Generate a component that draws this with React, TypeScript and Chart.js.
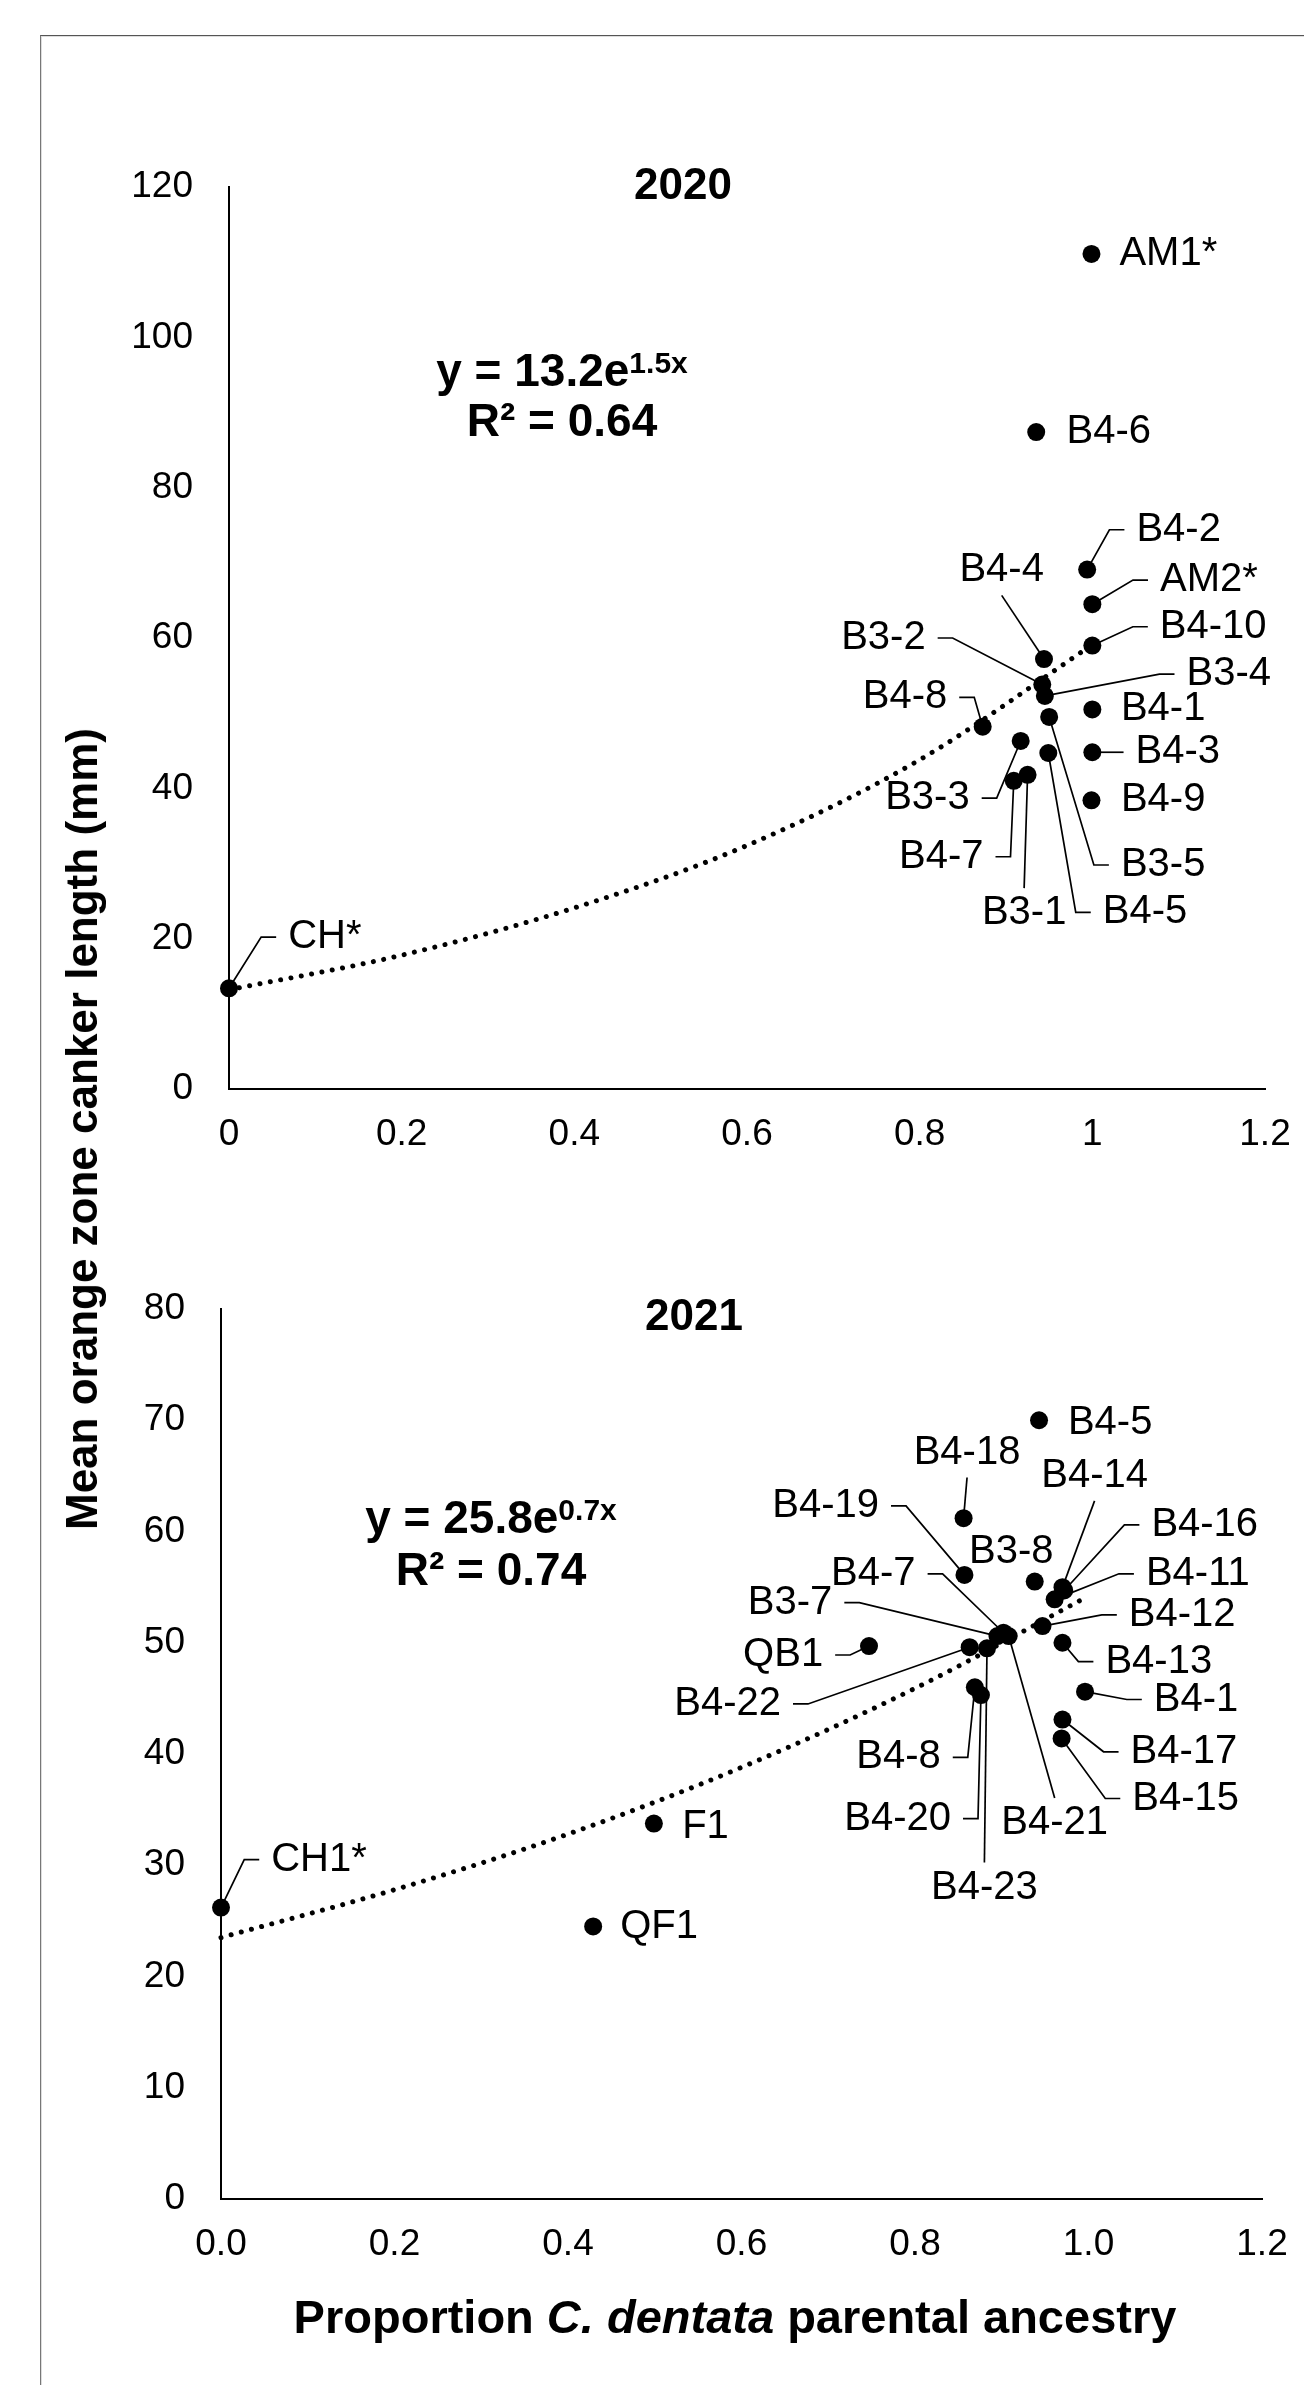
import React, { useEffect, useRef } from 'react';
import { Chart, registerables } from 'chart.js';

Chart.register(...registerables);

const FONT = '"Liberation Sans", Arial, Helvetica, sans-serif';

// ---------------- 2020 data ----------------
const names2020 = ['AM1*', 'B4-6', 'B4-2', 'AM2*', 'B4-10', 'B4-4', 'B3-2', 'B3-4', 'B4-1', 'B3-5', 'B4-8', 'B3-3', 'B4-3', 'B4-5', 'B3-1', 'B4-7', 'B4-9', 'CH*'];
const ancestry2020 = [0.999, 0.935, 0.994, 1.0, 1.0, 0.944, 0.942, 0.945, 1.0, 0.95, 0.873, 0.917, 1.0, 0.949, 0.925, 0.909, 0.999, 0];
const canker2020 = [111.1, 87.4, 69.1, 64.5, 59.0, 57.2, 53.8, 52.3, 50.5, 49.5, 48.2, 46.3, 44.8, 44.7, 41.8, 41.0, 38.4, 13.4];
const trendX2020 = [0, 0.2, 0.4, 0.6, 0.8, 1.0];
const trendY2020 = [13.2, 17.8, 24.1, 32.4, 43.8, 59.1];
const xTickValues2020 = [0, 0.2, 0.4, 0.6, 0.8, 1.0, 1.2];
const xTickLabels2020 = ['0', '0.2', '0.4', '0.6', '0.8', '1', '1.2'];
const yTickValues2020 = [0, 20, 40, 60, 80, 100, 120];
const yTickLabels2020 = ['0', '20', '40', '60', '80', '100', '120'];

// ---------------- 2021 data ----------------
const names2021 = ['B4-5', 'B4-18', 'B4-19', 'B3-8', 'B4-14', 'B4-16', 'B4-11', 'B4-12', 'B4-7', 'B3-7', 'B4-21', 'B4-13', 'QB1', 'B4-22', 'B4-23', 'B4-1', 'B4-8', 'B4-20', 'B4-17', 'B4-15', 'F1', 'QF1', 'CH1*'];
const ancestry2021 = [0.943, 0.856, 0.857, 0.938, 0.97, 0.972, 0.961, 0.947, 0.902, 0.895, 0.908, 0.97, 0.747, 0.863, 0.883, 0.996, 0.869, 0.876, 0.97, 0.969, 0.499, 0.429, 0];
const canker2021 = [70.0, 61.2, 56.1, 55.5, 55.0, 54.7, 53.9, 51.5, 50.9, 50.6, 50.6, 50.0, 49.7, 49.6, 49.5, 45.6, 46.0, 45.3, 43.1, 41.4, 33.75, 24.5, 26.2];
const trendX2021 = [0, 0.2, 0.4, 0.6, 0.8, 1.0];
const trendY2021 = [23.5, 27.8, 32.8, 38.8, 45.9, 54.2];
const xTickValues2021 = [0, 0.2, 0.4, 0.6, 0.8, 1.0, 1.2];
const xTickLabels2021 = ['0.0', '0.2', '0.4', '0.6', '0.8', '1.0', '1.2'];
const yTickValues2021 = [0, 10, 20, 30, 40, 50, 60, 70, 80];
const yTickLabels2021 = ['0', '10', '20', '30', '40', '50', '60', '70', '80'];

// ---------------- text ----------------
const title2020 = '2020';
const title2021 = '2021';
const eq2020 = { main: 'y = 13.2e', sup: '1.5x', r2: 'R² = 0.64' };
const eq2021 = { main: 'y = 25.8e', sup: '0.7x', r2: 'R² = 0.74' };
const yTitle = 'Mean orange zone canker length (mm)';

// ---------------- label layout (label centre in data units, leader type) ----------------
type LabelPos = [number, number, string];
const labelLayout2020: LabelPos[] = [
  [1.088, 111.1, ''], [1.019, 87.4, ''], [1.1, 74.4, 'L'], [1.135, 67.7, 'L'], [1.14, 61.5, 'L'],
  [0.895, 69.0, 'B'], [0.758, 60.0, 'R'], [1.158, 55.2, 'L'], [1.082, 50.55, ''], [1.082, 29.8, 'L'],
  [0.783, 52.1, 'R'], [0.809, 38.7, 'R'], [1.099, 44.8, 'L'], [1.061, 23.5, 'L'], [0.921, 23.4, 'T'],
  [0.825, 30.9, 'R'], [1.082, 38.4, ''], [0.111, 20.2, 'L'],
];
const labelLayout2021: LabelPos[] = [
  [1.025, 69.8, ''], [0.86, 67.1, 'B'], [0.697, 62.3, 'R'], [0.911, 58.2, ''], [1.007, 65.0, 'B'],
  [1.134, 60.6, 'L'], [1.126, 56.2, 'L'], [1.108, 52.5, 'L'], [0.752, 56.2, 'R'], [0.656, 53.6, 'R'],
  [0.961, 33.8, 'T'], [1.081, 48.3, 'L'], [0.648, 48.9, 'R'], [0.584, 44.5, 'R'], [0.88, 28.0, 'T'],
  [1.124, 44.9, 'L'], [0.781, 39.7, 'R'], [0.78, 34.2, 'R'], [1.11, 40.2, 'L'], [1.112, 36.0, 'L'],
  [0.5585, 33.4, ''], [0.505, 24.45, ''], [0.113, 30.5, 'L'],
];

const LABEL_FONT = `40px ${FONT}`;

function labelPlugin(names: string[], xv: number[], yv: number[], layout: LabelPos[]) {
  const geom = (chart: any) => {
    const xs = chart.scales.x;
    const ys = chart.scales.y;
    const ctx = chart.ctx;
    ctx.font = LABEL_FONT;
    return names.map((n, i) => {
      const [lx, ly, type] = layout[i];
      const px = xs.getPixelForValue(xv[i]);
      const py = ys.getPixelForValue(yv[i]);
      const cx = xs.getPixelForValue(lx);
      const cy = ys.getPixelForValue(ly);
      const w = ctx.measureText(n).width;
      return { n, type, px, py, cx, cy, w };
    });
  };
  return {
    id: 'pointLabels',
    beforeDatasetsDraw(chart: any) {
      const ctx = chart.ctx;
      ctx.save();
      const g = geom(chart);
      ctx.strokeStyle = '#000';
      ctx.lineWidth = 1.7;
      ctx.lineJoin = 'miter';
      for (const o of g) {
        const left = o.cx - o.w / 2;
        const right = o.cx + o.w / 2;
        let pts: number[][] | null = null;
        if (o.type === 'L') pts = [[left - 12, o.cy], [left - 27, o.cy], [o.px, o.py]];
        else if (o.type === 'R') pts = [[right + 12, o.cy], [right + 27, o.cy], [o.px, o.py]];
        else if (o.type === 'T') pts = [[o.cx, o.cy - 25], [o.px, o.py]];
        else if (o.type === 'B') pts = [[o.cx, o.cy + 25], [o.px, o.py]];
        if (pts) {
          ctx.beginPath();
          ctx.moveTo(pts[0][0], pts[0][1]);
          for (let k = 1; k < pts.length; k++) ctx.lineTo(pts[k][0], pts[k][1]);
          ctx.stroke();
        }
      }
      ctx.restore();
    },
    afterDatasetsDraw(chart: any) {
      const ctx = chart.ctx;
      ctx.save();
      const g = geom(chart);
      ctx.font = LABEL_FONT;
      ctx.fillStyle = '#000';
      ctx.textAlign = 'center';
      ctx.textBaseline = 'middle';
      for (const o of g) ctx.fillText(o.n, o.cx, o.cy);
      ctx.restore();
    },
  };
}

type Annot = {
  title: string; titleX: number; titleY: number;
  eq: { main: string; sup: string; r2: string }; eqX: number; eqBase1: number; eqBase2: number;
};

const EQ_SIZE = 46;
const SUP_SIZE = 30;

function annotPlugin(a: Annot) {
  return {
    id: 'annot',
    afterDraw(chart: any) {
      const ctx = chart.ctx;
      ctx.save();
      ctx.fillStyle = '#000';
      // title
      ctx.font = `bold 44px ${FONT}`;
      ctx.textAlign = 'center';
      ctx.textBaseline = 'alphabetic';
      ctx.fillText(a.title, a.titleX, a.titleY + 0.358 * 44);
      // equation
      ctx.textAlign = 'left';
      ctx.font = `bold ${EQ_SIZE}px ${FONT}`;
      const w1 = ctx.measureText(a.eq.main).width;
      ctx.font = `bold ${SUP_SIZE}px ${FONT}`;
      const w2 = ctx.measureText(a.eq.sup).width;
      const start = a.eqX - (w1 + w2) / 2;
      ctx.font = `bold ${EQ_SIZE}px ${FONT}`;
      ctx.fillText(a.eq.main, start, a.eqBase1);
      ctx.font = `bold ${SUP_SIZE}px ${FONT}`;
      ctx.fillText(a.eq.sup, start + w1, a.eqBase1 - 13);
      ctx.font = `bold ${EQ_SIZE}px ${FONT}`;
      const w3 = ctx.measureText(a.eq.r2).width;
      ctx.fillText(a.eq.r2, a.eqX - w3 / 2, a.eqBase2);
      ctx.restore();
    },
  };
}

type ChartSpec = {
  names: string[]; xv: number[]; yv: number[]; tx: number[]; ty: number[];
  xTickValues: number[]; xTickLabels: string[]; yTickValues: number[]; yTickLabels: string[];
  yMax: number; layout: LabelPos[];
  padTop: number; padRight: number; yAxisW: number; xAxisH: number; annot: Annot;
};

function makeConfig(s: ChartSpec): any {
  const points = s.xv.map((x, i) => ({ x, y: s.yv[i] }));
  const trend = s.tx.map((x, i) => ({ x, y: s.ty[i] }));
  return {
    type: 'scatter',
    data: {
      datasets: [
        {
          data: points,
          pointRadius: 9,
          pointHoverRadius: 9,
          pointBackgroundColor: '#000',
          pointBorderColor: '#000',
          pointBorderWidth: 0,
          order: 1,
          clip: false,
        },
        {
          data: trend,
          showLine: true,
          pointRadius: 0,
          pointHoverRadius: 0,
          borderColor: '#000',
          borderWidth: 5,
          borderDash: [0.01, 10.5],
          borderCapStyle: 'round',
          cubicInterpolationMode: 'monotone',
          fill: false,
          order: 2,
          clip: false,
        },
      ],
    },
    options: {
      responsive: false,
      maintainAspectRatio: false,
      animation: false,
      events: [],
      devicePixelRatio: 1,
      layout: { padding: { top: s.padTop, right: s.padRight, bottom: 0, left: 0 } },
      plugins: { legend: { display: false }, tooltip: { enabled: false }, title: { display: false } },
      scales: {
        x: {
          type: 'linear',
          min: 0,
          max: 1.2,
          afterBuildTicks: (sc: any) => { sc.ticks = s.xTickValues.map((v) => ({ value: v })); },
          afterFit: (sc: any) => {
            sc.height = s.xAxisH;
            sc.paddingLeft = 0; sc.paddingRight = 0; sc.paddingTop = 0; sc.paddingBottom = 0;
          },
          grid: { display: false, drawTicks: false },
          border: { display: true, color: '#000', width: 2 },
          ticks: {
            callback: (_v: any, i: number) => s.xTickLabels[i],
            font: { family: FONT, size: 37 },
            color: '#000',
            padding: 24,
            maxRotation: 0,
            autoSkip: false,
          },
        },
        y: {
          type: 'linear',
          min: 0,
          max: s.yMax,
          afterBuildTicks: (sc: any) => { sc.ticks = s.yTickValues.map((v) => ({ value: v })); },
          afterFit: (sc: any) => {
            sc.width = s.yAxisW;
            sc.paddingLeft = 0; sc.paddingRight = 0; sc.paddingTop = 0; sc.paddingBottom = 0;
          },
          grid: { display: false, drawTicks: false },
          border: { display: true, color: '#000', width: 2 },
          ticks: {
            callback: (_v: any, i: number) => s.yTickLabels[i],
            font: { family: FONT, size: 37 },
            color: '#000',
            padding: 36,
            autoSkip: false,
          },
        },
      },
    },
    plugins: [labelPlugin(s.names, s.xv, s.yv, s.layout), annotPlugin(s.annot)],
  };
}

const spec2020: ChartSpec = {
  names: names2020, xv: ancestry2020, yv: canker2020, tx: trendX2020, ty: trendY2020,
  xTickValues: xTickValues2020, xTickLabels: xTickLabels2020,
  yTickValues: yTickValues2020, yTickLabels: yTickLabels2020, yMax: 120, layout: labelLayout2020,
  padTop: 187, padRight: 39, yAxisW: 229, xAxisH: 111,
  annot: { title: title2020, titleX: 683, titleY: 183, eq: eq2020, eqX: 562, eqBase1: 386, eqBase2: 436 },
};

const spec2021: ChartSpec = {
  names: names2021, xv: ancestry2021, yv: canker2021, tx: trendX2021, ty: trendY2021,
  xTickValues: xTickValues2021, xTickLabels: xTickLabels2021,
  yTickValues: yTickValues2021, yTickLabels: yTickLabels2021, yMax: 80, layout: labelLayout2021,
  padTop: 109, padRight: 42, yAxisW: 221, xAxisH: 186,
  annot: { title: title2021, titleX: 694, titleY: 114, eq: eq2021, eqX: 491, eqBase1: 333, eqBase2: 385 },
};

function ChartCanvas({ spec, top, height }: { spec: ChartSpec; top: number; height: number }) {
  const ref = useRef<HTMLCanvasElement | null>(null);
  useEffect(() => {
    if (!ref.current) return;
    const chart = new Chart(ref.current, makeConfig(spec));
    return () => chart.destroy();
  }, [spec]);
  return (
    <canvas
      ref={ref}
      width={1304}
      height={height}
      style={{ position: 'absolute', left: 0, top, width: 1304, height }}
    />
  );
}

export default function App() {
  return (
    <div style={{ position: 'absolute', left: 0, top: 0, width: 1304, height: 2385, background: '#fff', overflow: 'hidden' }}>
      <div
        style={{
          position: 'absolute', left: 40, top: 35, width: 1300, height: 2400,
          borderTop: '1px solid #555', borderLeft: '1px solid #777',
          boxShadow: 'inset 1px 1px 0 #ddd',
        }}
      />
      <ChartCanvas spec={spec2020} top={0} height={1200} />
      <ChartCanvas spec={spec2021} top={1200} height={1185} />
      <div
        style={{
          position: 'absolute', left: 82, top: 1129,
          transform: 'translate(-50%, -50%) rotate(-90deg)',
          font: `bold 44px ${FONT}`, lineHeight: '44px',
          whiteSpace: 'nowrap', color: '#000',
        }}
      >
        {yTitle}
      </div>
      <div
        style={{
          position: 'absolute', left: 735, top: 2316,
          transform: 'translate(-50%, -50%)',
          font: `bold 47px ${FONT}`, lineHeight: '47px',
          whiteSpace: 'nowrap', color: '#000',
        }}
      >
        Proportion <i>C. dentata</i> parental ancestry
      </div>
    </div>
  );
}
